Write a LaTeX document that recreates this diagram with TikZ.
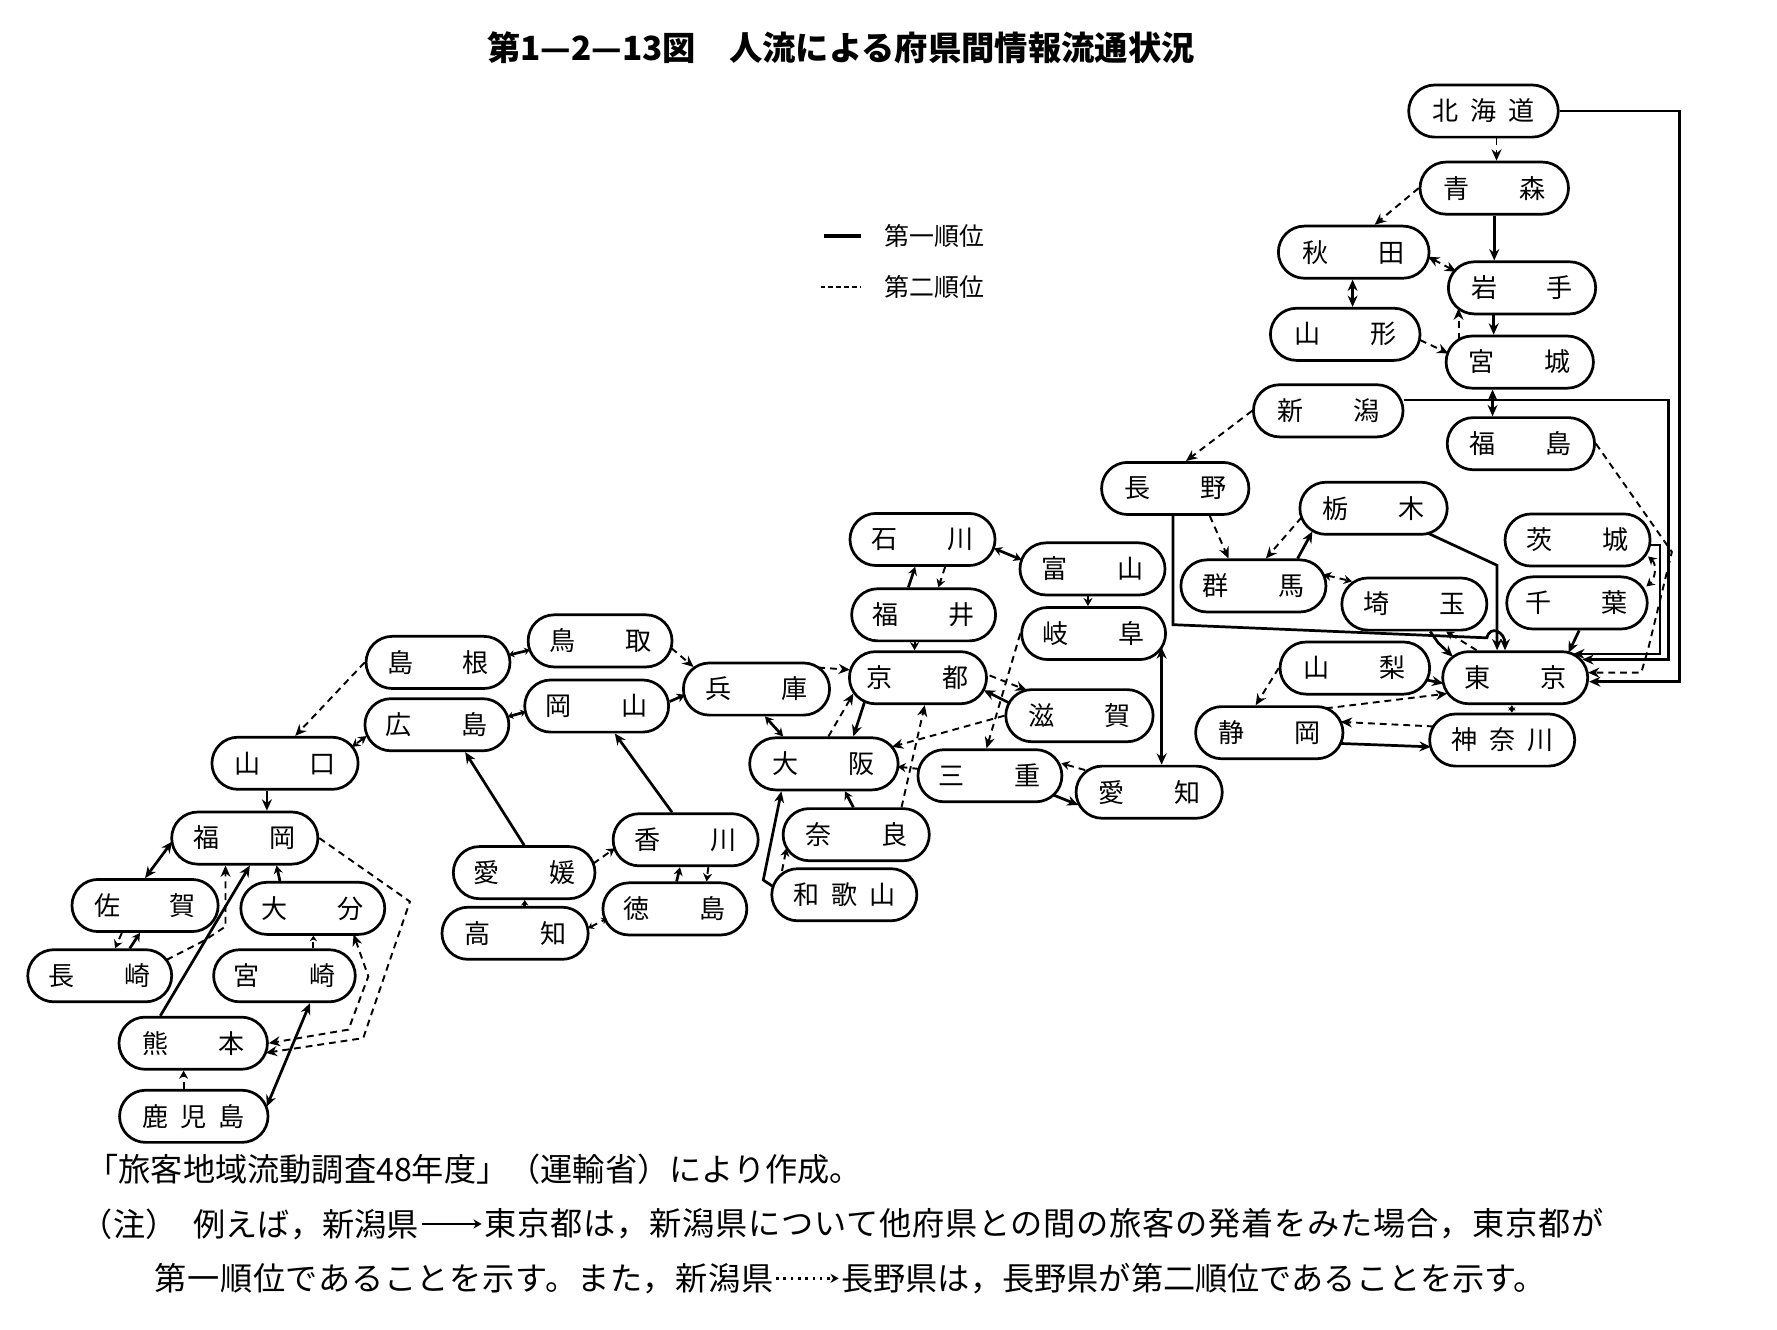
\documentclass[tikz,border=0pt]{standalone}
\usepackage{fontspec}
\newfontfamily\jp{Noto Sans CJK JP}
\usetikzlibrary{arrows.meta,calc}
\newcommand\pnii[2]{\makebox[45pt]{#1\hfill#2}}
\newcommand\pniii[3]{\makebox[45pt]{#1\hfill#2\hfill#3}}
\begin{document}
\begin{tikzpicture}[x=0.5pt,y=-0.5pt,
  >={Stealth[length=5pt,width=4.4pt]},
  pref/.style={draw, line width=1.2pt, rounded corners=11.5pt, minimum height=23pt, minimum width=#1, inner sep=0pt, font=\jp\fontsize{11.5pt}{13pt}\selectfont},
  pref/.default=65pt,
  rank1/.style={line width=1.2pt},
  rank2/.style={line width=0.85pt, dash pattern=on 3pt off 2.2pt},
  short/.style={>={Stealth[length=3.6pt,width=4pt]}},
  tiny/.style={>={Stealth[length=2.4pt,width=3.2pt]}},
  note/.style={inner sep=0pt, font=\jp\fontsize{14.2pt}{16pt}\selectfont},
  legend/.style={inner sep=0pt, anchor=west, font=\jp\fontsize{11pt}{13pt}\selectfont},
]
\useasboundingbox (0,0) rectangle (1568,1173);

% title and legend
\node[inner sep=0pt, font=\jp\bfseries\fontsize{14.7pt}{17pt}\selectfont] (title) at (742,42) {第1—2—13図\quad 人流による府県間情報流通状況};
\node[legend] (leg1) at (780,208) {第一順位};
\node[legend] (leg2) at (780,253) {第二順位};
\draw[line width=1.6pt] ($(leg1.west)+(-53,0)$) -- ($(leg1.west)+(-20,0)$);
\draw[line width=0.8pt, dash pattern=on 2pt off 1.5pt] ($(leg2.west)+(-56,0)$) -- ($(leg2.west)+(-20,0)$);

% prefectures
\node[pref=66pt] (hok) at (1309,98) {\pniii{北}{海}{道}};
\node[pref=65.5pt] (aom) at (1318.5,166) {\pnii{青}{森}};
\node[pref=66.5pt] (aki) at (1194.5,222.5) {\pnii{秋}{田}};
\node[pref=65pt] (iwa) at (1343,254) {\pnii{岩}{手}};
\node[pref=66pt] (yamg) at (1187,295) {\pnii{山}{形}};
\node[pref=65pt] (miy) at (1341,319.5) {\pnii{宮}{城}};
\node[pref=66pt] (nii) at (1172,362.5) {\pnii{新}{潟}};
\node[pref=65pt] (fks) at (1342,391.5) {\pnii{福}{島}};
\node[pref=65pt] (nag) at (1037,431) {\pnii{長}{野}};
\node[pref=65pt] (toc) at (1212,448.5) {\pnii{栃}{木}};
\node[pref=64pt] (iba) at (1392,476.5) {\pnii{茨}{城}};
\node[pref=64pt] (gun) at (1106,517) {\pnii{群}{馬}};
\node[pref=64pt] (sai) at (1248,533) {\pnii{埼}{玉}};
\node[pref=62pt] (chi) at (1391.5,532) {\pnii{千}{葉}};
\node[pref=66pt] (ynsh) at (1195.5,589.5) {\pnii{山}{梨}};
\node[pref=64pt] (tok) at (1337,598) {\pnii{東}{京}};
\node[pref=65pt] (shz) at (1120,646.5) {\pnii{静}{岡}};
\node[pref=64pt] (kng) at (1325.5,653) {\pniii{神}{奈}{川}};
\node[pref=64pt] (ish) at (814,476) {\pnii{石}{川}};
\node[pref=64pt] (toy) at (964,502) {\pnii{富}{山}};
\node[pref=63.5pt] (fki) at (815,542.5) {\pnii{福}{井}};
\node[pref=63.5pt] (gif) at (965,559) {\pnii{岐}{阜}};
\node[pref=60.5pt] (kyo) at (810,598) {\pnii{京}{都}};
\node[pref=65pt] (shg) at (952.5,631.5) {\pnii{滋}{賀}};
\node[pref=63.5pt] (mie) at (873.5,684.5) {\pnii{三}{重}};
\node[pref=64.5pt] (aic) at (1014,699) {\pnii{愛}{知}};
\node[pref=64.5pt] (hyo) at (667.5,608) {\pnii{兵}{庫}};
\node[pref=65.5pt] (osa) at (727,674) {\pnii{大}{阪}};
\node[pref=64.5pt] (nar) at (755.5,736.5) {\pnii{奈}{良}};
\node[pref=64pt] (wak) at (745,789.5) {\pniii{和}{歌}{山}};
\node[pref=63.5pt] (tot) at (529.5,565.5) {\pnii{鳥}{取}};
\node[pref=63.5pt] (shm) at (386.5,584.5) {\pnii{島}{根}};
\node[pref=63.5pt] (oka) at (526.5,623) {\pnii{岡}{山}};
\node[pref=63.5pt] (hir) at (385.5,639.5) {\pnii{広}{島}};
\node[pref=62.5pt] (ehi) at (462.5,770) {\pnii{愛}{媛}};
\node[pref=64pt] (kag) at (605,741) {\pnii{香}{川}};
\node[pref=64.5pt] (koc) at (454.5,823.5) {\pnii{高}{知}};
\node[pref=63.5pt] (tks) at (595.5,802) {\pnii{徳}{島}};
\node[pref=64.5pt] (ymg) at (251.5,673.5) {\pnii{山}{口}};
\node[pref=64.5pt] (fko) at (216,739.5) {\pnii{福}{岡}};
\node[pref=64.5pt] (sag) at (128,799) {\pnii{佐}{賀}};
\node[pref=63.5pt] (oit) at (276,801.5) {\pnii{大}{分}};
\node[pref=63.5pt] (ngs) at (88,861) {\pnii{長}{崎}};
\node[pref=62.5pt] (myz) at (251,861) {\pnii{宮}{崎}};
\node[pref=65.5pt] (kum) at (170.5,920.5) {\pnii{熊}{本}};
\node[pref=65.5pt] (kgs) at (171,985) {\pniii{鹿}{児}{島}};

% Tohoku
\draw[rank2,->] ($(hok.south)+(11.5,0)$) -- ($(aom.north)+(2,0)$);
\draw[rank1,->] (hok.east) -| ($(tok.east)+(80,3.5)$) -- ($(tok.east)+(0,3.5)$);
\draw[rank2,->] (aom.west) -- ($(aki.north)+(18.5,0)$);
\draw[rank1,->] (aom.south) -- ($(iwa.north)+(-24.5,0)$);
\draw[rank2,<->] ($(aki)+(65.5,4)$) -- ($(iwa)+(-58,-14.3)$);
\draw[rank1,<->] ($(aki.south)+(-1,0)$) -- ($(yamg.north)+(6.5,0)$);
\draw[rank1,->] ($(iwa.south)+(-25,0)$) -- ($(miy.north)+(-23,0)$);
\draw[rank2,->] ($(yamg)+(66,5)$) -- ($(miy)+(-63,-7.7)$);
\draw[rank2,->] ($(miy)+(-54,-19.6)$) -- ($(iwa)+(-56,18.2)$);
\draw[rank1,<->] ($(miy.south)+(-24,0)$) -- ($(fks.north)+(-25,0)$);
\draw[rank1,->] ($(nii.east)+(0,-9.5)$) -| ($(tok.east)+(70,-16)$) -- ($(tok.east)+(-6,-16)$);
\draw[rank2,->] (nii.west) -- ($(nag.north)+(9.5,0)$);
\draw[rank2,->] (fks.east) -- ($(tok.east)+(73,-111)$) -- ($(tok.east)+(52,-25)$) -- ($(tok.east)+(46,-4.5)$) -- ($(tok.east)+(-1,-4.5)$);

% Kanto
\draw[rank1,->] ($(iba.east)+(0,4.5)$) -| ($(tok.east)+(62.5,-21)$) -- ($(tok.east)+(-14,-21)$);
\draw[rank2,<->,short] ($(iba.east)+(-3,14.5)$) .. controls +(8,7) and +(8,-7) .. ($(chi.east)+(-2,-14.5)$);
\draw[rank1,->] ($(chi.south)+(2,0)$) -- ($(tok)+(47,-22)$);
\draw[rank1,->] ($(toc)+(48,22)$) -- ($(tok.north)+(-16,-75)$) -- ($(tok.north)+(-16,0)$);
\draw[rank1,->] ($(nag.south)+(-2,0)$) -- ($(nag.south)+(-2,96)$) -- ($(tok.north)+(-25,-11)$) .. controls +(3,-12) and +(0,-16) .. ($(tok.north)+(-9,0)$);
\draw[rank2,->] ($(toc)+(-63.5,8)$) -- ($(gun.north)+(11,0)$);
\draw[rank1,->] ($(gun.north)+(39,0)$) -- ($(toc)+(-54,20.5)$);
\draw[rank2,->] ($(nag.south)+(30.5,0)$) -- ($(gun.north)+(-22,0)$);
\draw[rank2,<->,short] ($(gun)+(61.5,-10)$) -- ($(sai)+(-55,-20)$);
\draw[rank1,->] ($(sai.south)+(14,0)$) -- ($(sai.south)+(21,10)$) -- ($(tok)+(-55,-18.5)$);
\draw[rank2,->,short] ($(tok.north)+(-34,0)$) -- ($(sai.south)+(28,0)$);
\draw[rank1,<->,tiny] ($(tok.south)+(-3,0)$) -- ($(kng.north)+(8.5,0)$);
\draw[rank1,->] ($(ynsh)+(63.5,10.5)$) -- ($(tok)+(-63.5,5)$);
\draw[rank2,->] (ynsh.west) -- ($(shz.north)+(-12,0)$);
\draw[rank2,->] ($(shz)+(50,-21.5)$) -- ($(tok)+(-60,14)$);
\draw[rank2,->] ($(kng)+(-60.5,-12)$) -- ($(shz)+(63,-9.5)$);
\draw[rank1,->] ($(shz)+(62,9.5)$) -- ($(kng)+(-63,6)$);

% Chubu and Kinki
\draw[rank1,<->,short] ($(ish)+(63,7.8)$) -- ($(toy)+(-62.5,-8)$);
\draw[rank1,->,short] ($(fki.north)+(-13.5,0)$) -- ($(ish.south)+(-6.5,0)$);
\draw[rank2,->,short] ($(ish.south)+(20,0)$) -- ($(fki.north)+(13,0)$);
\draw[rank2,->,short] ($(fki.south)+(-8,0)$) -- ($(kyo.north)+(-3,0)$);
\draw[rank2,->,short] ($(toy.south)+(-4,0)$) -- ($(gif.north)+(-5,0)$);
\draw[rank1,<->] ($(gif)+(60,12.2)$) -- ($(aic.north)+(11,0)$);
\draw[rank2,->] (gif.west) -- ($(mie.north)+(-3,0)$);
\draw[rank1,->] ($(mie)+(56,17)$) -- ($(aic)+(-62.5,11.3)$);
\draw[rank2,->,short] ($(aic)+(-56.5,-19.5)$) -- ($(mie)+(63,-11)$);
\draw[rank2,->] ($(kyo.east)+(1.5,-2)$) -- ($(shg)+(-46.5,-22.5)$);
\draw[rank1,->] ($(shg)+(-62.5,-11.5)$) -- ($(kyo)+(58,11)$);
\draw[rank2,->] (shg.west) -- ($(osa)+(60,-15)$);
\draw[rank2,->,short] ($(mie)+(-62.5,-6)$) -- ($(osa)+(65,2.5)$);
\draw[rank2,->] ($(nar.north)+(40,0)$) -- ($(kyo.south)+(6,0)$);
\draw[rank1,->,short] ($(nar.north)+(-2.5,0)$) -- ($(osa.south)+(18.5,0)$);
\draw[rank1,->] ($(kyo)+(-47,21)$) -- ($(osa.north)+(26,0)$);
\draw[rank2,->] ($(osa.north)+(4,0)$) -- ($(kyo)+(-57,14)$);
\draw[rank2,->] ($(hyo)+(54.5,-19)$) -- ($(kyo)+(-60,-7)$);
\draw[rank1,<->,short] ($(hyo.south)+(7.5,0)$) -- ($(osa.north)+(-36,0)$);
\draw[rank1,->] ($(wak)+(-62.5,-7)$) -- ($(wak)+(-71.5,-13)$) -- ($(osa.south)+(-37.5,0)$);
\draw[rank2,->,short] ($(wak)+(-55,-21)$) -- ($(nar)+(-61.5,12)$);

% Chugoku and Shikoku
\draw[rank2,->] ($(tot)+(63,6.5)$) -- ($(hyo)+(-55.5,-19.5)$);
\draw[rank1,->,short] ($(oka)+(64.5,-4)$) -- ($(hyo)+(-63,5)$);
\draw[rank1,<->,tiny] ($(shm)+(62.5,-6.5)$) -- ($(tot)+(-62,8)$);
\draw[rank1,<->,tiny] ($(hir)+(62.5,-7)$) -- ($(oka)+(-62.5,5)$);
\draw[rank2,->] (shm.west) -- ($(ymg.north)+(9,0)$);
\draw[rank2,<->,short] ($(hir)+(-62,10)$) -- ($(ymg)+(59,-14.5)$);
\draw[rank1,->] (ehi.north) -- ($(hir.south)+(25,0)$);
\draw[rank1,->] ($(kag.north)+(-12,0)$) -- ($(oka.south)+(16,0)$);
\draw[rank2,->,short] ($(ehi)+(61,-8)$) -- ($(kag)+(-62.5,7.5)$);
\draw[rank1,->,tiny] ($(koc.north)+(8.5,0)$) -- ($(ehi.south)+(0.5,0)$);
\draw[rank2,<->,tiny] ($(koc)+(64.5,-4.5)$) -- ($(tks)+(-60,8.5)$);
\draw[rank1,->,short] ($(tks.north)+(1.5,0)$) -- ($(kag.south)+(-5,0)$);
\draw[rank2,->,short] ($(kag.south)+(20,0)$) -- ($(tks.north)+(28,0)$);

% Kyushu
\draw[rank1,->] ($(ymg.south)+(-16,0)$) -- ($(fko.north)+(19.5,0)$);
\draw[rank1,<->] ($(fko)+(-64,3)$) -- (sag.north);
\draw[rank2,->,short] ($(sag.south)+(-20.5,0)$) -- ($(ngs.north)+(13.5,0)$);
\draw[rank1,->,short] ($(ngs.north)+(26.5,0)$) -- ($(sag.south)+(-4.5,0)$);
\draw[rank2,->] ($(ngs)+(59,-14)$) -- ($(ngs)+(93,-31.5)$) -- ($(ngs)+(111,-43.5)$) -- ($(fko.south)+(-17,0)$);
\draw[rank1,->] ($(kum.north)+(-29,0)$) -- ($(fko.south)+(4.5,0)$);
\draw[rank1,->,short] ($(oit.north)+(-29,0)$) -- ($(fko.south)+(28,0)$);
\draw[rank2,->,tiny] ($(myz.north)+(25.5,0)$) -- ($(oit.south)+(0.5,0)$);
\draw[rank1,<->] ($(myz.south)+(22.5,0)$) -- ($(kgs)+(64.3,-8.5)$);
\draw[rank2,->,short] ($(kgs.north)+(-9,0)$) -- ($(kum.south)+(-8.5,0)$);
\draw[rank2,->] (fko.east) -- ($(fko.east)+(80,56)$) -- ($(kum)+(150,-4.5)$) -- ($(kum)+(64,8.5)$);
\draw[rank2,<->] ($(oit)+(36,23)$) -- ($(oit)+(49,60)$) -- ($(kum)+(137,-12)$) -- (kum.east);

% notes
\node[note, anchor=west] (src) at (76,1032) {「旅客地域流動調査48年度」（運輸省）により作成。};
\node[note, anchor=east] (n2a) at (370,1080) {（注）\hspace{0.5em}例えば，新潟県};
\node[note, anchor=west] (n2b) at (427,1080) {\addfontfeature{LetterSpace=2.5}東京都は，新潟県について他府県との間の旅客の発着をみた場合，東京都が};
\draw[rank1,->,short] ($(n2a.east)+(2,0)$) -- ($(n2b.west)+(-2,0)$);
\node[note, anchor=west] (n3a) at (136,1128) {\addfontfeature{LetterSpace=2}第一順位であることを示す。また，新潟県};
\node[note, anchor=west] (n3b) at (742,1128) {長野県は，長野県が第二順位であることを示す。};
\draw[line width=1pt, dash pattern=on 1.2pt off 2pt, ->, short] ($(n3a.east)+(2,0)$) -- ($(n3b.west)+(-2,0)$);
\end{tikzpicture}
\end{document}
